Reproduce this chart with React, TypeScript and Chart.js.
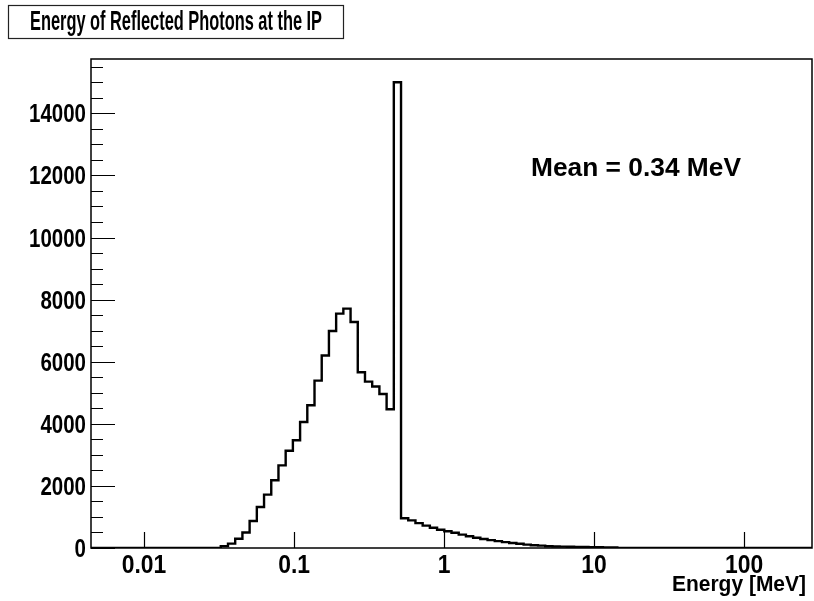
import { useEffect, useRef } from "react";
import { Chart, registerables } from "chart.js";

Chart.register(...registerables);

const titleText = "Energy of Reflected Photons at the IP";
const xAxisTitle = "Energy [MeV]";
const meanLabel = "Mean = 0.34 MeV";

// histogram binning (log-spaced bins)
const energyMin = 0.00443;
const energyMax = 283.5;
const binCount = 100;
const firstFilledBin = 18;
// counts of bins 18 .. 72 (all other bins are empty)
const binValues = [
  60, 140, 300, 500, 870, 1320, 1720, 2180, 2660, 3130,
  3470, 4060, 4600, 5390, 6200, 6990, 7550, 7710, 7280, 5660,
  5360, 5200, 4960, 4470, 15000, 960, 890, 800, 720, 650,
  590, 540, 490, 430, 380, 330, 290, 255, 220, 190,
  160, 135, 110, 90, 75, 55, 50, 45, 40, 35,
  30, 28, 25, 20, 15,
];

const xTickValues = [0.01, 0.1, 1, 10, 100];
const xTickLabels = ["0.01", "0.1", "1", "10", "100"];
const yTickValues = [0, 2000, 4000, 6000, 8000, 10000, 12000, 14000];
const yTickLabels = ["0", "2000", "4000", "6000", "8000", "10000", "12000", "14000"];
const yMinorStep = 500;
const yMax = 15750;

const FONT = "'Liberation Sans', Arial, Helvetica, sans-serif";

function binEdge(i: number) {
  return energyMin * Math.pow(energyMax / energyMin, i / binCount);
}
function binValue(i: number) {
  const k = i - firstFilledBin;
  return k >= 0 && k < binValues.length ? binValues[k] : 0;
}

function drawText(
  ctx: CanvasRenderingContext2D,
  text: string,
  font: string,
  x: number,
  y: number,
  sx: number,
  align: CanvasTextAlign
) {
  ctx.save();
  ctx.font = font;
  ctx.translate(x, y);
  ctx.scale(sx, 1);
  ctx.textAlign = align;
  ctx.textBaseline = "alphabetic";
  ctx.fillStyle = "#000";
  ctx.fillText(text, 0, 0);
  ctx.restore();
}

function fitText(ctx: CanvasRenderingContext2D, text: string, font: string, x: number, y: number, width: number, align: CanvasTextAlign) {
  ctx.save();
  ctx.font = font;
  const w = ctx.measureText(text).width;
  ctx.restore();
  drawText(ctx, text, font, x, y, width / w, align);
}

const rootPlugin = {
  id: "rootStyle",
  beforeDraw(chart: any) {
    const ctx = chart.ctx as CanvasRenderingContext2D;
    ctx.save();
    ctx.fillStyle = "#fff";
    ctx.fillRect(0, 0, chart.width, chart.height);
    ctx.restore();
  },
  afterDraw(chart: any) {
    const ctx = chart.ctx as CanvasRenderingContext2D;
    const a = chart.chartArea;
    const xs = chart.scales.x;
    const ys = chart.scales.y;
    ctx.save();
    ctx.strokeStyle = "#000";
    // frame
    ctx.lineWidth = 1.5;
    ctx.strokeRect(a.left, a.top, a.right - a.left, a.bottom - a.top);
    ctx.lineWidth = 1.2;
    // y ticks (major + minor), pointing inward
    ctx.beginPath();
    for (let v = 0; v <= yMax; v += yMinorStep) {
      const py = Math.round(ys.getPixelForValue(v)) + 0.5;
      const major = yTickValues.includes(v);
      ctx.moveTo(a.left, py);
      ctx.lineTo(a.left + (major ? 24 : 12), py);
    }
    // x ticks
    for (const v of xTickValues) {
      const px = Math.round(xs.getPixelForValue(v)) + 0.5;
      ctx.moveTo(px, a.bottom);
      ctx.lineTo(px, a.bottom - 16);
    }
    ctx.stroke();
    // title box
    ctx.fillStyle = "#fff";
    ctx.fillRect(8, 5, 335, 33);
    ctx.lineWidth = 1.2;
    ctx.strokeStyle = "#222";
    ctx.strokeRect(8.5, 5.5, 335, 33);
    ctx.restore();

    // tick labels
    yTickValues.forEach((v, i) => {
      const py = ys.getPixelForValue(v);
      drawText(ctx, yTickLabels[i], `bold 25px ${FONT}`, a.left - 5, py + 9, 0.82, "right");
    });
    xTickValues.forEach((v, i) => {
      const px = xs.getPixelForValue(v);
      drawText(ctx, xTickLabels[i], `bold 26px ${FONT}`, px, a.bottom + 25, 0.88, "center");
    });

    fitText(ctx, titleText, `bold 28px ${FONT}`, 176, 30, 292, "center");
    fitText(ctx, meanLabel, `bold 25px ${FONT}`, 531, 176, 210, "left");
    fitText(ctx, xAxisTitle, `bold 22px ${FONT}`, 806, 591, 134, "right");
  },
};

export default function App() {
  const ref = useRef<HTMLCanvasElement | null>(null);
  useEffect(() => {
    const canvas = ref.current;
    if (!canvas) return;
    const points: { x: number; y: number }[] = [];
    for (let i = 0; i < binCount; i++) points.push({ x: binEdge(i), y: binValue(i) });
    points.push({ x: binEdge(binCount), y: binValue(binCount - 1) });

    const chart = new Chart(canvas, {
      type: "line",
      data: {
        datasets: [
          {
            data: points,
            // horizontal at each bin's value up to the next edge, then vertical
            stepped: "before",
            borderColor: "#000",
            borderWidth: 2.4,
            pointRadius: 0,
            fill: false,
          },
        ],
      },
      options: {
        animation: false,
        responsive: false,
        devicePixelRatio: 1,
        layout: { padding: { top: 59, right: 2, left: 0, bottom: 0 } },
        plugins: { legend: { display: false }, tooltip: { enabled: false }, title: { display: false } },
        scales: {
          x: {
            type: "logarithmic",
            min: energyMin,
            max: energyMax,
            grid: { display: false },
            border: { display: false },
            afterBuildTicks: (s: any) => {
              s.ticks = xTickValues.map((v) => ({ value: v }));
            },
            afterFit: (s: any) => {
              s.height = 53;
            },
            ticks: { display: false },
          },
          y: {
            type: "linear",
            min: 0,
            max: yMax,
            grid: { display: false },
            border: { display: false },
            afterBuildTicks: (s: any) => {
              s.ticks = yTickValues.map((v) => ({ value: v }));
            },
            afterFit: (s: any) => {
              s.width = 91;
            },
            ticks: { display: false },
          },
        },
      },
      plugins: [rootPlugin],
    } as any);
    return () => chart.destroy();
  }, []);

  return (
    <canvas
      ref={ref}
      width={814}
      height={601}
      style={{ position: "fixed", left: 0, top: 0, width: 814, height: 601 }}
    />
  );
}
